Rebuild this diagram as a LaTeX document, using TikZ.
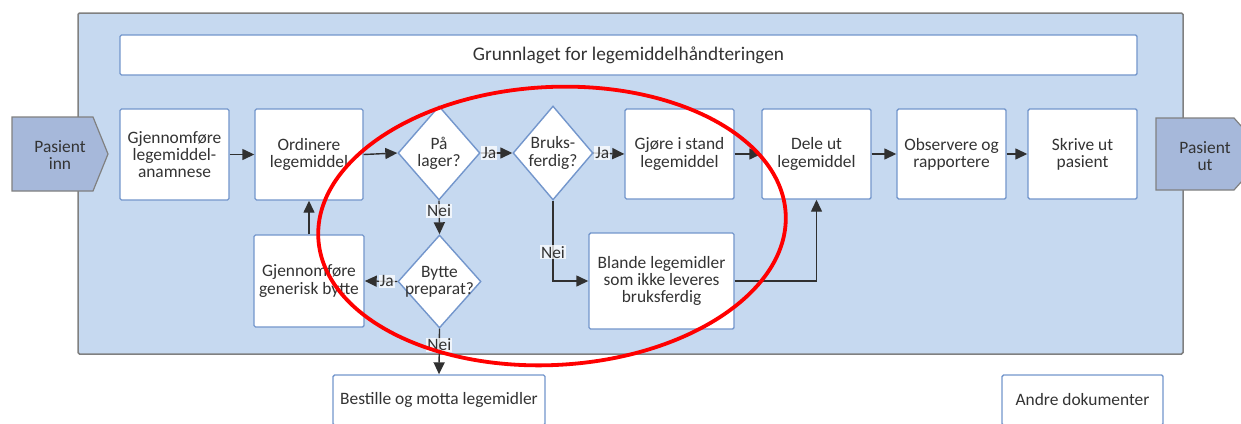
\documentclass[tikz,border=0pt]{standalone}
\usepackage{fontspec}
\setmainfont{Carlito}
\usetikzlibrary{arrows.meta,shapes.geometric}
\definecolor{panel}{HTML}{C6D9F0}
\definecolor{boxline}{HTML}{7396CC}
\definecolor{pasfill}{HTML}{A6B8DA}
\definecolor{framecol}{HTML}{808080}
\definecolor{conn}{HTML}{303030}
\definecolor{txt}{HTML}{333333}
\begin{document}
\begin{tikzpicture}[x=1pt,y=-1pt,
  font=\fontsize{17.4}{17.2}\selectfont,
  proc/.style={draw=boxline, line width=1.4pt, fill=white, rounded corners=1.5pt,
    align=center, text=txt, inner sep=0pt},
  dia/.style={diamond, draw=boxline, line width=1.4pt, fill=white, inner sep=0pt,
    label={[align=center, text=txt, font=\fontsize{17.4}{17.2}\selectfont]center:#1}},
  conn/.style={draw=conn, line width=1.4pt, -{Triangle[length=12pt,width=11pt]}},
  lab/.style={fill=white, fill opacity=0.75, text opacity=1, text=txt, inner sep=1pt},
  pas/.style={draw=framecol, line width=1.2pt, fill=pasfill}
]
\useasboundingbox (0,0) rectangle (1241,423);
\begin{scope}
\clip (0,0) rectangle (1241,423);
% panel
\draw[draw=framecol, line width=1.5pt, fill=panel, rounded corners=1.5pt] (78,13) rectangle (1183,354);
% title
\node[proc, minimum width=1017pt, minimum height=40pt, font=\fontsize{19.3}{20}\selectfont] (title) at (628.5,55) {Grunnlaget for legemiddelhåndteringen};
% patient in / out
\draw[pas] (12,117) -- (93,117) -- (108,154) -- (93,191) -- (12,191) -- cycle;
\node[text=txt, align=center] (pin) at (60,155) {Pasient\\inn};
\draw[pas] (1156,118) -- (1234,118) -- (1242,127) -- (1242,181) -- (1234,190) -- (1156,190) -- cycle;
\node[text=txt, align=center] (pout) at (1205,156) {Pasient\\ut};
% main row
\node[proc, minimum width=109pt, minimum height=91pt] (b1) at (174.5,154.5) {Gjennomføre\\legemiddel-\\anamnese};
\node[proc, minimum width=108pt, minimum height=91pt] (b2) at (309,154.5) {Ordinere\\legemiddel};
\node[dia={På\\lager?}, minimum width=82pt, minimum height=94pt] (d1) at (439,153) {};
\node[dia={Bruks-\\ferdig?}, minimum width=80pt, minimum height=94pt] (d2) at (553,153) {};
\node[proc, minimum width=109pt, minimum height=90pt] (b3) at (679.5,154) {Gjøre i stand\\legemiddel};
\node[proc, minimum width=109pt, minimum height=90pt] (b4) at (816.5,154) {Dele ut\\legemiddel};
\node[proc, minimum width=109pt, minimum height=90pt] (b5) at (951.5,154) {Observere og\\rapportere};
\node[proc, minimum width=109pt, minimum height=90pt] (b6) at (1082.5,154) {Skrive ut\\pasient};
% lower row
\node[dia={Bytte\\preparat?}, minimum width=83pt, minimum height=93pt] (d3) at (439.5,281.5) {};
\node[proc, minimum width=110pt, minimum height=92pt] (b7) at (309,281) {Gjennomføre\\generisk bytte};
\node[proc, minimum width=145pt, minimum height=96pt] (b8) at (661.5,281) {Blande legemidler\\som ikke leveres\\bruksferdig};
\node[proc, minimum width=212pt, minimum height=50pt] (b9) at (439,400) {Bestille og motta legemidler};
\node[proc, minimum width=161pt, minimum height=50pt] (b10) at (1082.5,400) {Andre dokumenter};
% connectors
\draw[conn] (b1.east) -- (b2.west);
\draw[conn] (b2.east) -- (d1.west);
\draw[conn] (d1.east) -- node[lab, pos=0, anchor=west] {Ja} (d2.west);
\draw[conn] (d2.east) -- node[lab, pos=0, anchor=west] {Ja} (b3.west);
\draw[conn] (b3.east) -- (b4.west);
\draw[conn] (b4.east) -- (b5.west);
\draw[conn] (b5.east) -- (b6.west);
\draw[conn] (d1.south) -- node[lab, pos=0.3] {Nei} (d3.north);
\draw[conn] (d3.west) -- node[lab, pos=0.32] {Ja} (b7.east);
\draw[conn] (b7.north) -- (b2.south);
\draw[conn] (d2.south) |- node[lab, pos=0.32] {Nei} (b8.west);
\draw[conn] (b8.east) -| (b4.south);
\draw[conn] (d3.south) -- node[lab, pos=0.35] {Nei} (b9.north);
% highlight ellipse
\draw[red, line width=3.8pt, rotate around={3:(552,226)}] (552,226) ellipse [x radius=234pt, y radius=139pt];
\end{scope}
\end{tikzpicture}
\end{document}
